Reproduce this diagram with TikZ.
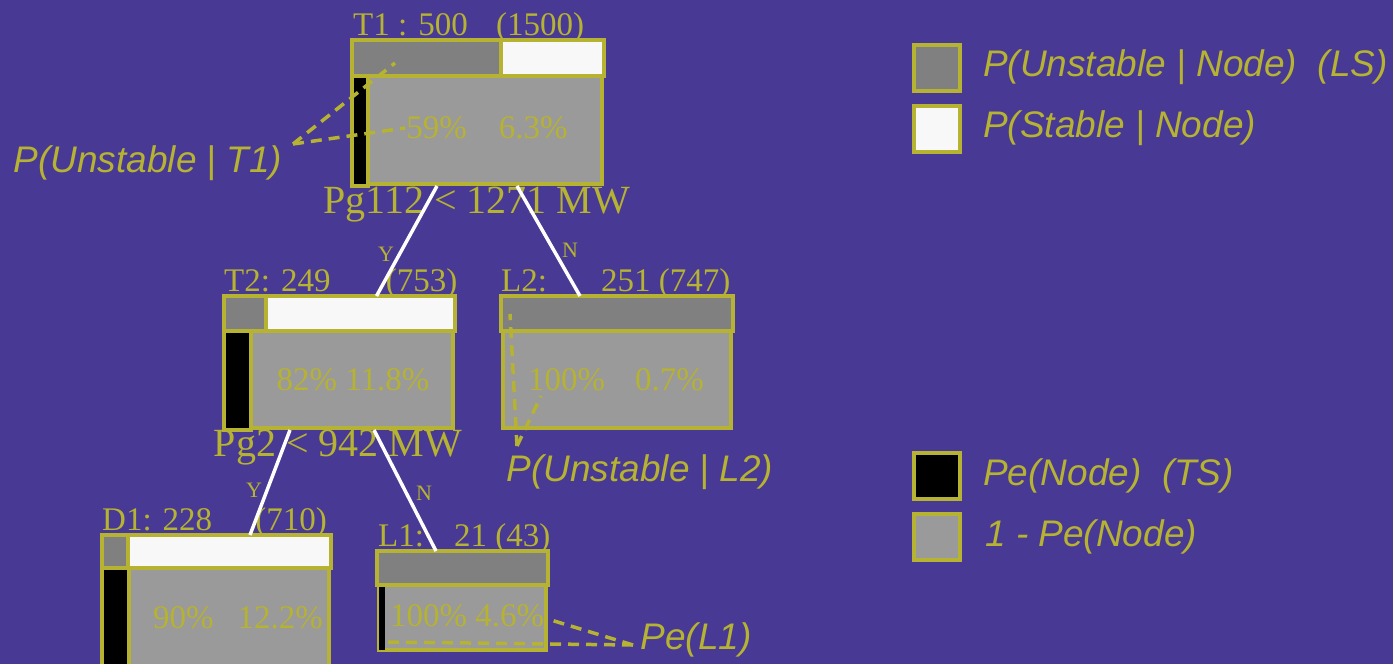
\documentclass[tikz,border=0pt]{standalone}
\usepackage{fontspec}
\setmainfont{Liberation Serif}
\setsansfont{Liberation Sans}
\usetikzlibrary{positioning}

\definecolor{bgpurple}{RGB}{72,57,148}
\definecolor{olive}{RGB}{182,178,50}
\definecolor{lsgrey}{RGB}{128,128,128}
\definecolor{tsgrey}{RGB}{154,154,154}
\definecolor{sswhite}{RGB}{248,248,248}

\begin{document}
\begin{tikzpicture}[x=1pt, y=-1pt,
        tn/.style={rectangle, draw=olive, line width=4pt, fill=tsgrey, inner sep=0pt},
        part/.style={draw=olive, line width=3.5pt},
        title/.style={anchor=base west, inner sep=0pt, text=olive, font=\fontsize{33}{36}\selectfont},
        pct/.style={inner sep=0pt, text=olive, font=\fontsize{33}{36}\selectfont},
        split/.style={inner sep=0pt, text=olive, font=\fontsize{40}{44}\selectfont},
        yn/.style={inner sep=0pt, text=olive, font=\fontsize{22}{24}\selectfont},
        branch/.style={draw=white, line width=3.5pt},
        note/.style={draw=olive, line width=3.5pt, dash pattern=on 11pt off 7pt},
        notetext/.style={inner sep=0pt, text=olive, font=\sffamily\itshape\fontsize{37}{40}\selectfont},
        legbox/.style={rectangle, draw=olive, line width=4pt, minimum size=46pt, inner sep=0pt},
        legtext/.style={notetext, anchor=west}]

      \clip (0,0) rectangle (1393,664);
      \fill[bgpurple] (0,0) rectangle (1393,664);

      % T1
      \node[tn, minimum width=248pt, minimum height=142pt] (t1) at (478,113) {};
      \filldraw[part, fill=lsgrey] (352,40) rectangle (501,76);
      \filldraw[part, fill=sswhite] (501,40) rectangle (604,76);
      \filldraw[part, fill=black] (352,76) rectangle (368,186);
      \node[title] (t1t) at (353,35) {T1 : 500\hspace{20pt} (1500)};
      \node[pct] (t1p) at (487,128) {59\%\hspace{24pt} 6.3\%};
      \node[split] (t1s) at (477,205) {Pg112 < 1271 MW};

      % T2
      \node[tn, minimum width=227pt, minimum height=130pt] (t2) at (339.5,363) {};
      \filldraw[part, fill=lsgrey] (224,296) rectangle (266,331);
      \filldraw[part, fill=sswhite] (266,296) rectangle (455,331);
      \filldraw[part, fill=black] (224,331) rectangle (251,430);
      \node[title] (t2t) at (224,291) {T2: 249\hspace{47pt} (753)};
      \node[pct] (t2p) at (353,380) {82\% 11.8\%};
      \node[split] (t2s) at (338,448) {Pg2 < 942 MW};

      % L2
      \node[tn, minimum width=228pt, minimum height=130pt] (l2) at (617,363) {};
      \filldraw[part, fill=lsgrey] (501,296) rectangle (733,331);
      \node[title] (l2t) at (501,291) {L2:\hspace{43pt} 251 (747)};
      \node[pct] (l2p) at (616,380) {100\%\hspace{22pt} 0.7\%};

      % D1
      \node[tn, minimum width=225pt, minimum height=171pt] (d1) at (216.5,622.5) {};
      \filldraw[part, fill=lsgrey] (102,535) rectangle (128,568);
      \filldraw[part, fill=sswhite] (128,535) rectangle (331,568);
      \filldraw[part, fill=black] (102,568) rectangle (129,710);
      \node[title] (d1t) at (102,530) {D1: 228\hspace{35pt} (710)};
      \node[pct] (d1p) at (238,618) {90\%\hspace{16pt} 12.2\%};

      % L1
      \node[tn, minimum width=167pt, minimum height=97pt] (l1) at (462.5,601.5) {};
      \filldraw[part, fill=lsgrey] (377,551) rectangle (548,585);
      \fill[black] (379,587) rectangle (385,650);
      \node[title] (l1t) at (378,546) {L1:\hspace{19pt} 21 (43)};
      \node[pct] (l1p) at (467,616) {100\% 4.6\%};

      % branches
      \draw[branch] ([xshift=-41pt]t1.south) -- ([xshift=37pt]t2.north);
      \draw[branch] ([xshift=39pt]t1.south) -- ([xshift=-37pt]l2.north);
      \draw[branch] ([xshift=-49.5pt]t2.south) -- ([xshift=33.5pt]d1.north);
      \draw[branch] ([xshift=34.5pt]t2.south) -- ([xshift=-26.5pt]l1.north);
      \node[yn] (t1y) at (386,254) {Y};
      \node[yn] (t1n) at (570,250) {N};
      \node[yn] (t2y) at (254,490) {Y};
      \node[yn] (t2n) at (424,493) {N};

      % notes
      \node[notetext] (nt1) at (148,163) {P(Unstable | T1)};
      \coordinate (jt1) at (293,144);
      \coordinate (at1a) at (395,63);
      \coordinate (at1b) at (405,128);
      \draw[note] (jt1) -- (at1a);
      \draw[note] (jt1) -- (at1b);

      \node[notetext] (nl2) at (640,472) {P(Unstable | L2)};
      \coordinate (jl2) at (517,446);
      \coordinate (al2a) at (510,314);
      \coordinate (al2b) at (541,396);
      \draw[note] (jl2) -- (al2a);
      \draw[note] (jl2) -- (al2b);

      \node[notetext] (nl1) at (696,640) {Pe(L1)};
      \coordinate (jl1) at (633,645);
      \coordinate (al1a) at (551,620);
      \coordinate (al1b) at (387,642);
      \draw[note] (jl1) -- (al1a);
      \draw[note] (jl1) -- (al1b);

      % legend
      \node[legbox, fill=lsgrey] (kls) at (937,67.5) {};
      \node[legbox, fill=sswhite, below=11pt of kls] (kss) {};
      \node[legbox, fill=black] (kts) at (937,476) {};
      \node[legbox, fill=tsgrey, below=11pt of kts] (knt) {};
      \node[legtext, right=21pt of kls] (kls t) {P(Unstable | Node)\ \ (LS)};
      \node[legtext, right=21pt of kss] (kss t) {P(Stable | Node)};
      \node[legtext, right=21pt of kts] (kts t) {Pe(Node)\ \ (TS)};
      \node[legtext, right=23pt of knt] (knt t) {1 - Pe(Node)};
    \end{tikzpicture}
\end{document}
